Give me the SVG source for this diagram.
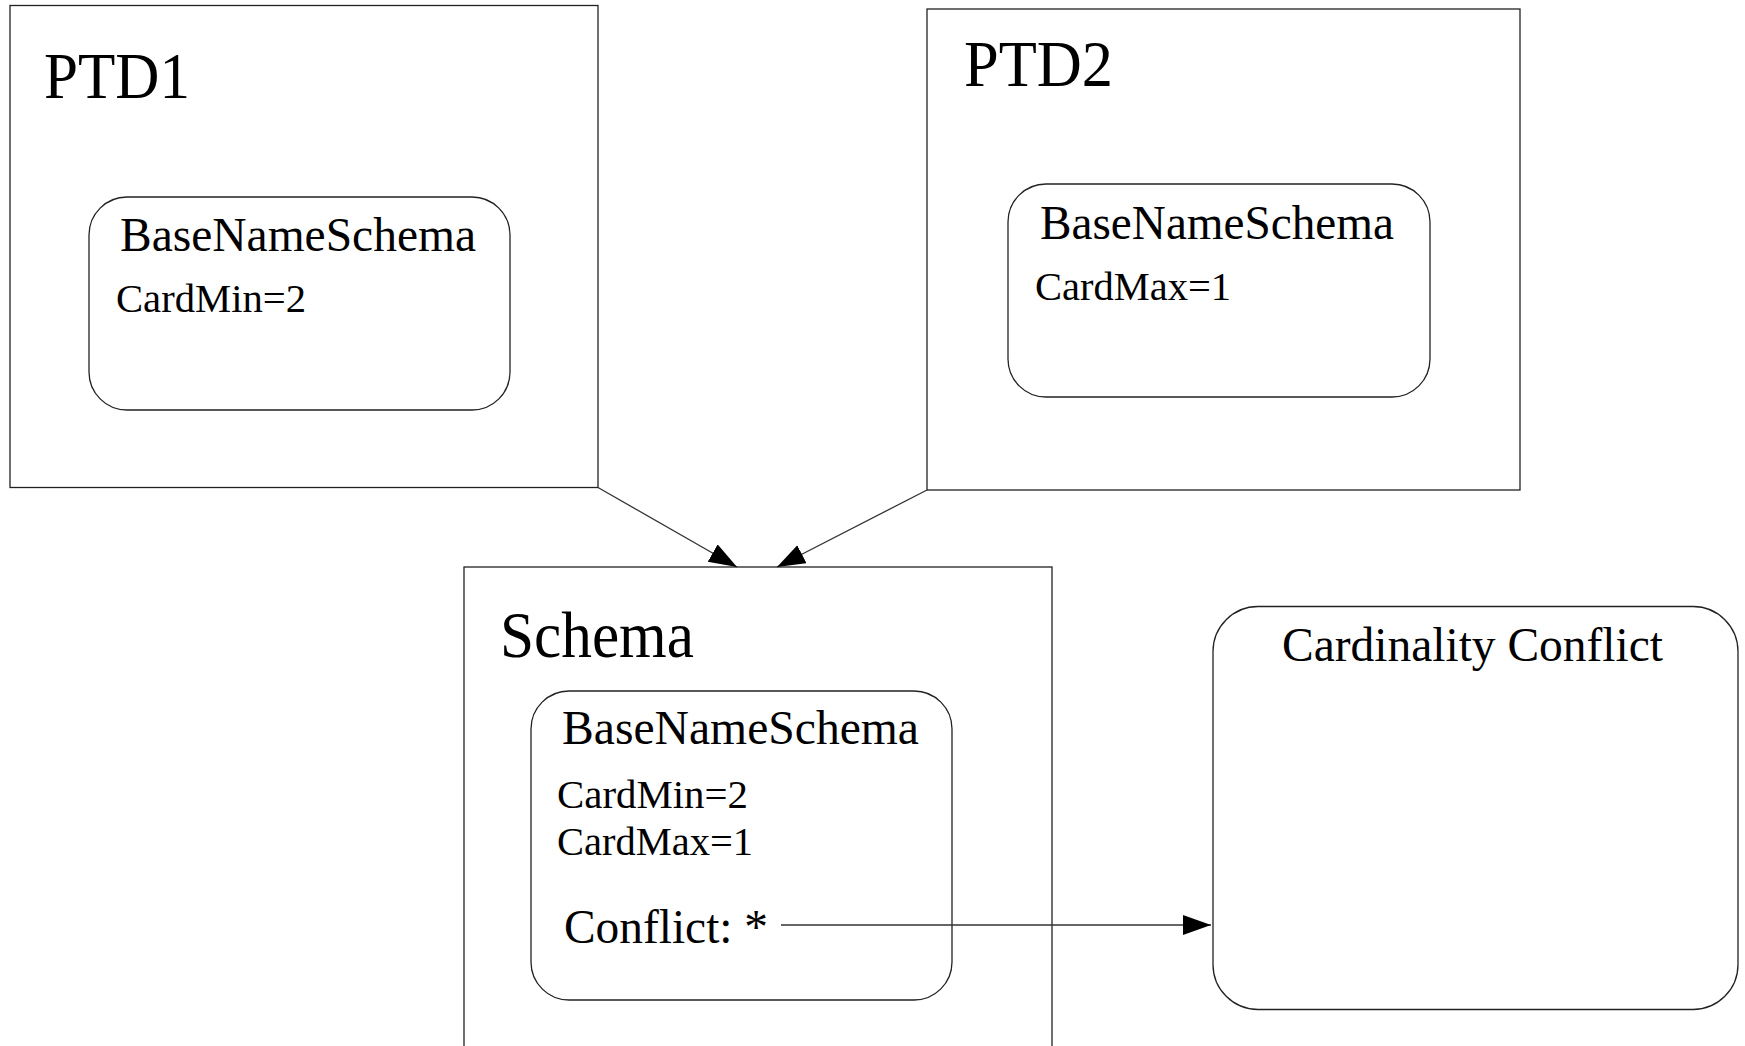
<svg xmlns="http://www.w3.org/2000/svg" width="1745" height="1046" viewBox="0 0 1745 1046">
<style>
  .box{fill:#fff;stroke:#222;stroke-width:1.3}
  .t{font-family:"Liberation Serif","Times New Roman",serif;fill:#000}
  .title{font-size:66px}
  .mid{font-size:48px}
  .sm{font-size:41px}
  .conn{stroke:#333;stroke-width:1.3;fill:none}
</style>
<defs>
  <marker id="ah" markerUnits="userSpaceOnUse" markerWidth="30" markerHeight="22" refX="28" refY="10" orient="auto">
    <path d="M0,0 L28,10 L0,20 z" fill="#000"/>
  </marker>
</defs>
<rect width="1745" height="1046" fill="#fff"/>
<g id="ptd1">
  <rect class="box" x="10" y="5.5" width="588" height="482"/>
  <text class="t title" x="44" y="98" textLength="146" lengthAdjust="spacingAndGlyphs">PTD1</text>
  <g id="ptd1-bns">
    <rect class="box" x="89" y="197" width="421" height="213" rx="38" ry="38"/>
    <text class="t mid" x="120" y="251" textLength="356" lengthAdjust="spacingAndGlyphs">BaseNameSchema</text>
    <text class="t sm" x="116" y="312" textLength="190" lengthAdjust="spacingAndGlyphs">CardMin=2</text>
  </g>
</g>
<g id="ptd2">
  <rect class="box" x="927" y="9" width="593" height="481"/>
  <text class="t title" x="964" y="86" textLength="149" lengthAdjust="spacingAndGlyphs">PTD2</text>
  <g id="ptd2-bns">
    <rect class="box" x="1008" y="184" width="422" height="213" rx="38" ry="38"/>
    <text class="t mid" x="1040" y="239" textLength="354" lengthAdjust="spacingAndGlyphs">BaseNameSchema</text>
    <text class="t sm" x="1035" y="300" textLength="196" lengthAdjust="spacingAndGlyphs">CardMax=1</text>
  </g>
</g>
<g id="schema">
  <rect class="box" x="464" y="567" width="588" height="500"/>
  <text class="t title" x="500" y="657" textLength="194" lengthAdjust="spacingAndGlyphs">Schema</text>
  <g id="schema-bns">
    <rect class="box" x="531" y="691" width="421" height="309" rx="38" ry="38"/>
    <text class="t mid" x="562" y="744" textLength="357" lengthAdjust="spacingAndGlyphs">BaseNameSchema</text>
    <text class="t sm" x="557" y="808" textLength="191" lengthAdjust="spacingAndGlyphs">CardMin=2</text>
    <text class="t sm" x="557" y="855" textLength="196" lengthAdjust="spacingAndGlyphs">CardMax=1</text>
    <text class="t mid" x="564" y="943" textLength="204" lengthAdjust="spacingAndGlyphs">Conflict: *</text>
  </g>
</g>
<g id="conflict">
  <rect class="box" x="1213" y="606.5" width="525" height="403" rx="45" ry="45"/>
  <text class="t mid" x="1282" y="661" textLength="381" lengthAdjust="spacingAndGlyphs">Cardinality Conflict</text>
</g>
<g id="connectors">
  <line class="conn" x1="598" y1="487.5" x2="737" y2="567" marker-end="url(#ah)"/>
  <line class="conn" x1="927" y1="490" x2="777" y2="567" marker-end="url(#ah)"/>
  <line class="conn" x1="781" y1="925" x2="1211" y2="925" marker-end="url(#ah)"/>
</g>
</svg>
